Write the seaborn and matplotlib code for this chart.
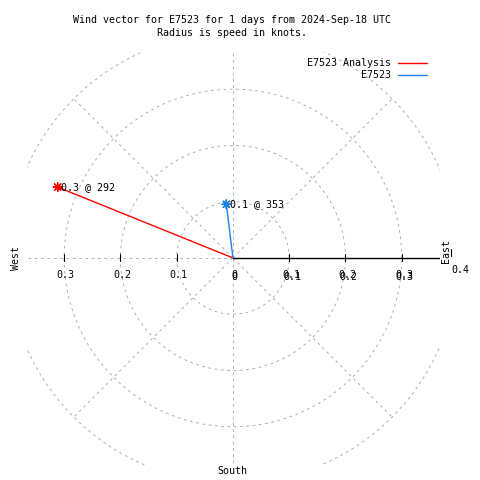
import numpy as np
import pandas as pd
import matplotlib
matplotlib.use("Agg")
import matplotlib.pyplot as plt
from matplotlib.lines import Line2D
import seaborn as sns

# wind vectors: name, speed (knots), direction (deg, clockwise from north)
names = ["E7523 Analysis", "E7523"]
speeds = [0.336, 0.096]
directions = [292, 353]
colors = ["#ff0000", "#1e7fe6"]

rings = [0.1, 0.2, 0.3, 0.4]
spokes = [0, 45, 90, 135, 180, 225, 270, 315]
tick_vals = [0.1, 0.2, 0.3]

sns.set_style("white")
plt.rcParams["font.family"] = ["DejaVu Sans Mono"]
plt.rcParams["text.color"] = "black"
FS = 7.2
GRID = "#a8a8a8"

fig = plt.figure(figsize=(4.8, 4.8), dpi=100)
# pixel geometry of the clipped plot square
ax = fig.add_axes([27 / 480, 15 / 480, 413 / 480, 413 / 480])
ax.set_xlim(-0.366, 0.368)
ax.set_ylim(-0.368, 0.366)
ax.set_axis_off()

# polar grid
th = np.linspace(0, 2 * np.pi, 400)
for r in rings:
    ax.plot(r * np.cos(th), r * np.sin(th), color=GRID, lw=0.65,
            ls=(0, (3, 4)), zorder=1)
for a in spokes:
    rad = np.deg2rad(a)
    ax.plot([0, 0.4 * np.cos(rad)], [0, 0.4 * np.sin(rad)], color=GRID,
            lw=0.65, ls=(0, (3, 4)), zorder=1)

# solid radial axis with ticks
ax.plot([0, 0.368], [0, 0], color="black", lw=1.0, zorder=2)
for t in tick_vals:
    for s in (-1, 1):
        ax.plot([s * t, s * t], [-0.006, 0.007], color="black", lw=0.8, zorder=2)

# tick labels (drawn twice on the right like the original)
ax.text(0.002, -0.030, "0", ha="center", va="center", fontsize=FS)
ax.text(0.003, -0.033, "0", ha="center", va="center", fontsize=FS)
for t in tick_vals:
    ax.text(-t + 0.003, -0.030, f"{t:.1f}", ha="center", va="center", fontsize=FS)
    ax.text(t + 0.004, -0.030, f"{t:.1f}", ha="center", va="center", fontsize=FS)
    ax.text(t + 0.005, -0.033, f"{t:.1f}", ha="center", va="center", fontsize=FS)
ax.text(0.404, -0.022, "0.4", ha="center", va="center", fontsize=FS)

# compass labels
ax.text(-0.385, 0.0, "West", rotation=90, ha="center", va="center", fontsize=FS)
ax.text(-0.001, -0.378, "South", ha="center", va="center", fontsize=FS)
ax.text(0.378, 0.012, "East", rotation=90, ha="center", va="center", fontsize=FS)
ax.plot([0.387, 0.387], [0.004, 0.015], color="black", lw=0.8, clip_on=False)

# vectors
rows = []
for n, sp, d in zip(names, speeds, directions):
    rad = np.deg2rad(d)
    rows.append({"name": n, "x": 0.0, "y": 0.0, "order": 0})
    rows.append({"name": n, "x": sp * np.sin(rad), "y": sp * np.cos(rad), "order": 1})
df = pd.DataFrame(rows)
pal = dict(zip(names, colors))
sns.lineplot(data=df, x="x", y="y", hue="name", units="name", estimator=None,
             sort=False, palette=pal, lw=1.0, legend=False, ax=ax, zorder=3)
tips = df[df["order"] == 1]
sns.scatterplot(data=tips, x="x", y="y", hue="name", palette=pal,
                marker=(8, 2, 0), s=40, linewidth=1.0, legend=False, ax=ax, zorder=4)
for _, row in tips.iterrows():
    sp = np.hypot(row["x"], row["y"])
    d = directions[names.index(row["name"])]
    ax.text(row["x"] + 0.006, row["y"], f"{sp:.1f} @ {d}", ha="left",
            va="center", fontsize=FS, zorder=5)
ax.set_xlabel("")
ax.set_ylabel("")

# legend drawn by hand, text right aligned
for i, (n, c) in enumerate(zip(names, colors)):
    yf = 1 - (63 + 12 * i) / 480
    fig.text(391 / 480, yf, n, ha="right", va="center", fontsize=FS)
    fig.add_artist(Line2D([398 / 480, 427 / 480], [yf, yf], color=c, lw=1.0))

fig.text(232 / 480, 1 - 20 / 480, "Wind vector for E7523 for 1 days from 2024-Sep-18 UTC",
         ha="center", va="center", fontsize=FS)
fig.text(232 / 480, 1 - 33 / 480, "Radius is speed in knots.",
         ha="center", va="center", fontsize=FS)

fig.savefig("out.png", dpi=100, facecolor="white")
